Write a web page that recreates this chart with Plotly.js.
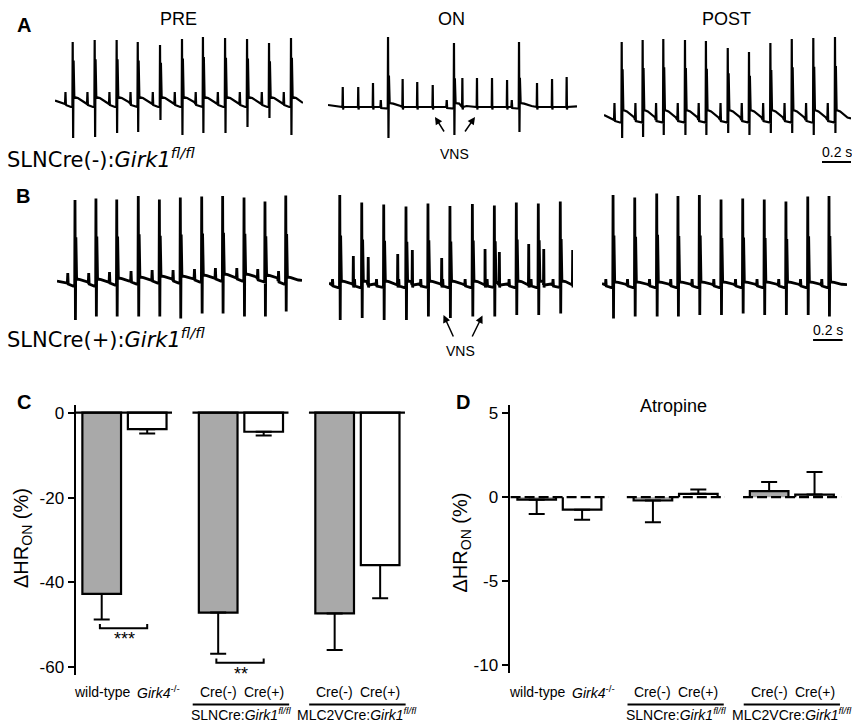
<!DOCTYPE html>
<html><head><meta charset="utf-8">
<script src="https://cdn.plot.ly/plotly-3.0.1.min.js"></script>
<style>html,body{margin:0;padding:0;background:#fff}#chart{width:852px;height:722px}</style>
</head><body><div id="chart"></div>
<script>
// ================= DATA =================
// Panel A: SLNCre(-):Girk1 fl/fl ECG (time of R peak in s, R top / S bottom in mV-like units)
const aPreT   = [0.120,0.269,0.418,0.561,0.712,0.861,1.003,1.153,1.302,1.451,1.600];
const aPreTop = [1.26,1.30,1.30,1.26,1.20,1.32,1.36,1.34,1.32,1.24,1.34];
const aPreBot = [-0.66,-0.64,-0.56,-0.54,-0.30,-0.60,-0.56,-0.56,-0.44,-0.26,-0.60];

const aOnT    = [0.407,0.854,1.295];
const aOnTop  = [1.36,1.24,1.26];
const aOnBot  = [-0.66,-0.60,-0.54];
const aOnStimT   = [0.100,0.205,0.305,0.506,0.605,0.710,0.911,1.010,1.112,1.214,1.417,1.519,1.618];
const aOnStimTop = [0.36,0.36,0.44,0.52,0.46,0.40,0.54,0.54,0.54,0.50,0.44,0.52,0.56];

const aPostT   = [0.120,0.262,0.402,0.549,0.691,0.839,0.983,1.128,1.273,1.419,1.566];
const aPostTop = [1.26,1.30,1.32,1.30,1.28,1.14,1.06,1.24,1.32,1.34,1.36];
const aPostBot = [-0.66,-0.64,-0.60,-0.60,-0.60,-0.56,-0.60,-0.56,-0.56,-0.60,-0.56];

// Panel B: SLNCre(+):Girk1 fl/fl ECG
const bPreT    = [0.122,0.264,0.405,0.551,0.694,0.836,0.981,1.123,1.268,1.410,1.551];
const bPreTop  = [1.66,1.69,1.67,1.74,1.67,1.71,1.73,1.74,1.71,1.63,1.75];
const bPreBot  = [-0.74,-0.67,-0.67,-0.67,-0.67,-0.71,-0.61,-0.61,-0.67,-0.67,-0.57];
const bPreBase = [0.00,0.00,0.02,0.04,0.06,0.06,0.08,0.10,0.10,0.08,0.04];

const bOnT    = [0.073,0.222,0.371,0.522,0.671,0.820,0.972,1.121,1.270,1.419,1.568];
const bOnTop  = [1.76,1.61,1.57,1.53,1.59,1.54,1.58,1.55,1.61,1.59,1.63];
const bOnBot  = [-0.74,-0.70,-0.74,-0.74,-0.67,-0.70,-0.67,-0.67,-0.64,-0.64,-0.61];
const bOnStimT   = [0.165,0.266,0.466,0.565,0.764,1.058,1.155,1.354,1.456,1.652];
const bOnStimTop = [0.54,0.52,0.58,0.66,0.50,0.68,0.62,0.78,0.68,0.66];

const bPostT   = [0.075,0.222,0.371,0.515,0.660,0.807,0.954,1.100,1.247,1.395,1.539];
const bPostTop = [1.76,1.71,1.79,1.74,1.76,1.67,1.69,1.67,1.63,1.73,1.74];
const bPostBot = [-0.71,-0.67,-0.67,-0.67,-0.64,-0.64,-0.61,-0.64,-0.64,-0.64,-0.67];

// Panels C & D: bar categories and values (ΔHR_ON, %)
const barTickText = ['wild-type', '<i>Girk4</i><sup>-/-</sup>', 'Cre(-)', 'Cre(+)', 'Cre(-)', 'Cre(+)'];
const groupText   = ['', 'SLNCre:<i>Girk1</i><sup><i>fl/fl</i></sup>', 'MLC2VCre:<i>Girk1</i><sup><i>fl/fl</i></sup>'];
const vnsMean = [-42.7, -3.9, -47.1, -4.5, -47.3, -35.9];
const vnsSem  = [6.0, 1.0, 9.7, 0.9, 8.6, 7.8];
const atrMean = [-0.15, -0.75, -0.20, 0.20, 0.36, 0.15];
const atrSem  = [0.85, 0.60, 1.30, 0.25, 0.54, 1.35];
const vnsTicks = [0, -20, -40, -60];
const atrTicks = [5, 0, -5, -10];

// ================= LAYOUT HELPERS =================
const W = 852, H = 722;
const FONT = 'Liberation Sans, Arial, Helvetica, sans-serif';
const WIDE = 'DejaVu Sans, Liberation Sans, sans-serif';
const PX_PER_S = 147.5;
const fx = px => px / W;
const fy = py => 1 - py / H;
const ROW_A = {pyTop: 30, pyBot: 145, zeroPy: 105, ppu: 50};
const ROW_B = {pyTop: 185, pyBot: 328, zeroPy: 283, ppu: 50};

const layout = {
  width: W, height: H, margin: {l: 0, r: 0, t: 0, b: 0},
  paper_bgcolor: '#fff', plot_bgcolor: 'rgba(0,0,0,0)', showlegend: false,
  font: {family: FONT, color: '#000'}, barmode: 'overlay',
  annotations: [], shapes: []
};
const data = [];

function beatPoints(tR, top, bot, b, m) {
  return [
    [tR - 0.052, b], [tR - 0.049, b + m.p], [tR - 0.046, b - 0.02],
    [tR - 0.012, b - m.q], [tR - 0.002, b - m.q],
    [tR, top], [tR + 0.003, bot], [tR + 0.006, b + m.sh * (top - b)],
    [tR + 0.011, b + m.t], [tR + 0.035, b + m.t * 0.85], [tR + 0.085, b + m.t * 0.25]
  ];
}

function buildECG(p) {
  const baseAt = i => Array.isArray(p.base) ? p.base[i] : p.base;
  let pts = [];
  p.t.forEach((t, i) => { pts = pts.concat(beatPoints(t, p.top[i], p.bot[i], baseAt(i), p.m)); });
  if (p.stimT) {
    const sb = Array.isArray(p.base) ? p.base[0] : p.base;
    p.stimT.forEach((t, i) => {
      pts.push([t - 0.002, sb], [t, p.stimTop[i]], [t + 0.002, sb - 0.05], [t + 0.005, sb]);
    });
  }
  pts.sort((a, b) => a[0] - b[0]);
  pts = pts.filter(q => q[0] >= 0 && q[0] <= p.dur + 0.001);
  const last = baseAt(p.t.length - 1);
  pts.unshift([0, baseAt(0) + p.m.t * 0.5]);
  pts.push([p.dur, last + p.m.t * 0.15]);
  return {x: pts.map(q => q[0]), y: pts.map(q => q[1])};
}

const ecgPanels = [
  {t: aPreT, top: aPreTop, bot: aPreBot, base: 0.02, dur: 1.681, x0: 55, row: ROW_A, lw: 2.2, m: {p: 0.24, q: 0.06, t: 0.14, sh: 0.7}},
  {t: aOnT, top: aOnTop, bot: aOnBot, base: -0.04, stimT: aOnStimT, stimTop: aOnStimTop, dur: 1.688, x0: 328, row: ROW_A, lw: 2.2, m: {p: 0.14, q: 0.03, t: 0.08, sh: 0.45}},
  {t: aPostT, top: aPostTop, bot: aPostBot, base: -0.30, dur: 1.675, x0: 604, row: ROW_A, lw: 2.2, m: {p: 0.34, q: 0.05, t: 0.2, sh: 0.65}},
  {t: bPreT, top: bPreTop, bot: bPreBot, base: bPreBase, dur: 1.661, x0: 57, row: ROW_B, lw: 2.8, m: {p: 0.2, q: 0.06, t: 0.08, sh: 0.55}},
  {t: bOnT, top: bOnTop, bot: bOnBot, base: -0.04, stimT: bOnStimT, stimTop: bOnStimTop, dur: 1.654, x0: 329, row: ROW_B, lw: 2.8, m: {p: 0.12, q: 0.05, t: 0.08, sh: 0.55}},
  {t: bPostT, top: bPostTop, bot: bPostBot, base: -0.04, dur: 1.661, x0: 602, row: ROW_B, lw: 2.8, m: {p: 0.12, q: 0.05, t: 0.06, sh: 0.55}}
];

ecgPanels.forEach((p, k) => {
  const n = k + 1, xs = n === 1 ? '' : String(n);
  const r = p.row;
  layout['xaxis' + xs] = {visible: false, fixedrange: true, anchor: 'y' + xs,
    domain: [fx(p.x0), Math.min(1, fx(p.x0 + p.dur * PX_PER_S))], range: [0, p.dur]};
  layout['yaxis' + xs] = {visible: false, fixedrange: true, anchor: 'x' + xs,
    domain: [fy(r.pyBot), fy(r.pyTop)],
    range: [-(r.pyBot - r.zeroPy) / r.ppu, (r.zeroPy - r.pyTop) / r.ppu]};
  const d = buildECG(p);
  data.push({type: 'scatter', mode: 'lines', x: d.x, y: d.y, xaxis: 'x' + xs, yaxis: 'y' + xs,
    line: {color: '#000', width: p.lw, shape: 'linear'}, hoverinfo: 'skip'});
});

// ================= BAR PANELS =================
const BARW = 0.85, GROUP_STEP = 2.56;
const pos = i => Math.floor(i / 2) * GROUP_STEP + (i % 2);
const GRAY = '#a9a9a9';

function errY(means, sems, idx, w) {
  return {type: 'data', symmetric: false, color: '#000', thickness: 2, width: w,
    array: idx.map(i => means[i] < 0 ? 0 : sems[i]),
    arrayminus: idx.map(i => means[i] < 0 ? sems[i] : 0)};
}

// C axes
layout.xaxis7 = {visible: false, fixedrange: true, anchor: 'y7', domain: [fx(76), fx(410)], range: [-0.565, 6.776]};
layout.yaxis7 = {anchor: 'x7', domain: [fy(675), fy(405)], range: [-61.8, 1.8], fixedrange: true,
  showline: true, linecolor: '#000', linewidth: 2.5, ticks: 'outside', ticklen: 6, tickwidth: 2, tickcolor: '#000',
  tickvals: vnsTicks, ticktext: vnsTicks.map(String), tickfont: {size: 17, family: FONT}, showgrid: false, zeroline: false};
// D axes
layout.xaxis8 = {visible: false, fixedrange: true, anchor: 'y8', domain: [fx(510), fx(852)], range: [-0.588, 6.945]};
layout.yaxis8 = {anchor: 'x8', domain: [fy(673), fy(405)], range: [-10.5, 5.5], fixedrange: true,
  showline: true, linecolor: '#000', linewidth: 2.5, ticks: 'outside', ticklen: 6, tickwidth: 2, tickcolor: '#000',
  tickvals: atrTicks, ticktext: atrTicks.map(String), tickfont: {size: 17, family: FONT}, showgrid: false, zeroline: false};

const grayIdx = [0, 2, 4], whiteIdx = [1, 3, 5];
[[grayIdx, GRAY], [whiteIdx, '#fff']].forEach(([idx, col]) => {
  data.push({type: 'bar', x: idx.map(pos), y: idx.map(i => vnsMean[i]), width: BARW, xaxis: 'x7', yaxis: 'y7',
    marker: {color: col, line: {color: '#000', width: 2.2}}, error_y: errY(vnsMean, vnsSem, idx, 8), hoverinfo: 'skip'});
  data.push({type: 'bar', x: idx.map(pos), y: idx.map(i => atrMean[i]), width: BARW, xaxis: 'x8', yaxis: 'y8',
    marker: {color: col, line: {color: col, width: 0}}, error_y: errY(atrMean, atrSem, idx, 8), hoverinfo: 'skip'});
});
// D bar outlines (three sides, open at zero)
(function () {
  const ox = [], oy = [];
  atrMean.forEach((v, i) => {
    const l = pos(i) - BARW / 2, r = pos(i) + BARW / 2;
    ox.push(l, l, r, r, null); oy.push(0, v, v, 0, null);
  });
  data.push({type: 'scatter', mode: 'lines', x: ox, y: oy, xaxis: 'x8', yaxis: 'y8',
    line: {color: '#000', width: 2.2}, hoverinfo: 'skip', connectgaps: false});
})();

// zero lines per group
for (let g = 0; g < 3; g++) {
  const l = pos(2 * g) - BARW / 2, r = pos(2 * g + 1) + BARW / 2;
  layout.shapes.push({type: 'line', xref: 'x7', yref: 'y7', x0: l - 0.14, x1: r + 0.12, y0: 0, y1: 0,
    line: {color: '#000', width: 2.2}});
  layout.shapes.push({type: 'line', xref: 'x8', yref: 'y8', x0: l - 0.15, x1: r + 0.16, y0: 0, y1: 0,
    line: {color: '#000', width: 2.2, dash: '10px,4px'}});
}

// significance brackets in C
[[0, 1, '***'], [2, 3, '**']].forEach(([a, b, txt]) => {
  const yb = vnsMean[a] - vnsSem[a] - 2.1;
  layout.shapes.push({type: 'path', xref: 'x7', yref: 'y7',
    path: `M ${pos(a) - 0.04} ${yb + 1} L ${pos(a) - 0.04} ${yb} L ${pos(b)} ${yb} L ${pos(b)} ${yb + 1}`,
    line: {color: '#000', width: 2}});
  layout.annotations.push({xref: 'x7', yref: 'y7', x: (pos(a) + pos(b)) / 2, y: yb, yanchor: 'top', xanchor: 'center',
    text: txt, showarrow: false, font: {size: 18, family: FONT}, yshift: 1});
});

// category labels + group labels for C and D
['x7', 'x8'].forEach(xr => {
  barTickText.forEach((t, i) => {
    layout.annotations.push({xref: xr, yref: 'paper', x: pos(i), y: fy(692), xanchor: 'center', yanchor: 'middle',
      xshift: i === 1 ? 11 : 0, text: t, showarrow: false, font: {size: 14, family: FONT}});
  });
  for (let g = 1; g < 3; g++) {
    const c = pos(2 * g) + 0.5;
    layout.shapes.push({type: 'line', xref: xr, yref: 'paper', x0: c - 1.06, x1: c + 1.06,
      y0: fy(704.5), y1: fy(704.5), line: {color: '#000', width: 2}});
    layout.annotations.push({xref: xr, yref: 'paper', x: c, y: fy(713.5), xanchor: 'center', yanchor: 'middle',
      text: groupText[g], showarrow: false, font: {size: 14, family: FONT}});
  }
});

// ================= TEXT =================
function txt(text, px, py, size, extra, fam) {
  layout.annotations.push(Object.assign({xref: 'paper', yref: 'paper', x: fx(px), y: fy(py),
    xanchor: 'center', yanchor: 'middle', text: text, showarrow: false,
    font: {size: size, family: fam || FONT, color: '#000'}}, extra || {}));
}
txt('<b>A</b>', 24, 25, 20); txt('<b>B</b>', 23, 196, 20);
txt('<b>C</b>', 23.5, 401.5, 20); txt('<b>D</b>', 462.7, 401.7, 20);
txt('PRE', 178, 19, 18); txt('ON', 451.7, 19, 18); txt('POST', 726.7, 19, 18);
txt('SLNCre(-):<i>Girk1</i><sup><i>fl/fl</i></sup>', 5, 158, 21, {xanchor: 'left'}, WIDE);
txt('SLNCre(+):<i>Girk1</i><sup><i>fl/fl</i></sup>', 5, 338, 21, {xanchor: 'left'}, WIDE);
txt('VNS', 454, 154, 14); txt('VNS', 460, 351, 14);
txt('0.2 s', 836.7, 152, 14); txt('0.2 s', 828, 330, 14);
txt('Atropine', 673.8, 406, 18);
txt('ΔHR<sub>ON</sub> (%)', 22.5, 538.5, 20, {textangle: -90});
txt('ΔHR<sub>ON</sub> (%)', 460.5, 543, 20, {textangle: -90});

// VNS arrows
function arrow(tipX, tipY, ax, ay) {
  layout.annotations.push({xref: 'paper', yref: 'paper', x: fx(tipX), y: fy(tipY), ax: ax, ay: ay, text: '',
    showarrow: true, arrowhead: 2, arrowsize: 1, arrowwidth: 1.5, arrowcolor: '#000'});
}
arrow(435, 117, 10, 16); arrow(475, 117, -11, 16);
arrow(443.5, 315, 10.5, 23); arrow(482.5, 315.5, -11, 22.5);

// scale bars (0.2 s in the POST trace time axes)
layout.shapes.push({type: 'line', xref: 'x3', yref: 'paper', x0: 1.478, x1: 1.478 + 0.2, y0: fy(162), y1: fy(162), line: {color: '#000', width: 2}});
layout.shapes.push({type: 'line', xref: 'x6', yref: 'paper', x0: 1.431, x1: 1.431 + 0.2, y0: fy(340), y1: fy(340), line: {color: '#000', width: 2}});

Plotly.newPlot('chart', data, layout, {staticPlot: true, displayModeBar: false});
</script>
</body></html>
